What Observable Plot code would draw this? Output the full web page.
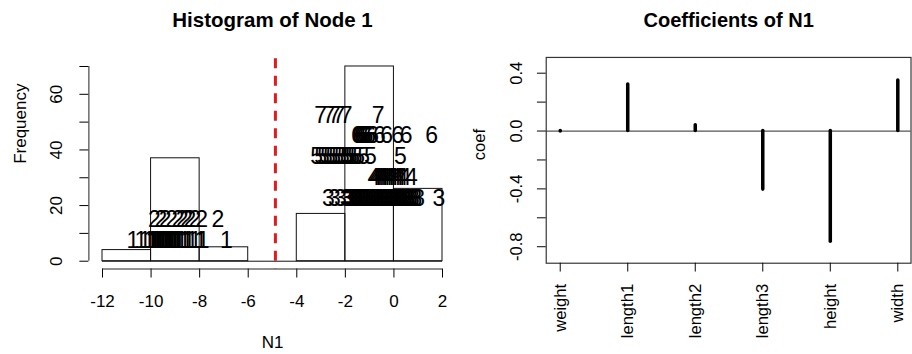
<!DOCTYPE html>
<html><head><meta charset="utf-8">
<script src="https://cdn.jsdelivr.net/npm/d3@7"></script>
<script src="https://cdn.jsdelivr.net/npm/@observablehq/plot@0.6"></script>
<style>
html,body{margin:0;padding:0;background:#fff;}
#wrap{position:relative;width:912px;height:354px;overflow:hidden;background:#fff;}
#left,#right{position:absolute;top:0;}
#left{left:0;} #right{left:456px;}
svg{display:block}
</style></head><body>
<div id="wrap"><div id="left"></div><div id="right"></div></div>
<script>
// Node 1 scores (N1) by species code 1..7
const species1 = [-10.75, -10.42, -10.25, -10.08,
  -9.97, -9.91, -9.86, -9.82, -9.76, -9.71, -9.66, -9.62, -9.55, -9.51, -9.44, -9.39, -9.33, -9.28,
  -9.24, -9.18, -9.12, -9.05, -9.01, -8.94, -8.89, -8.83, -8.74, -8.62, -8.51, -8.43, -8.31, -8.18,
  -7.95, -7.86, -6.9];
const species2 = [-9.86, -9.6, -9.42, -9.15, -8.9, -8.72, -8.55, -8.4, -8.2, -7.92, -7.25];
const species3 = [-2.7, -2.45, -2.2,
  -1.97, -1.91, -1.86, -1.8, -1.74, -1.69, -1.63, -1.58, -1.52, -1.47,
  -1.41, -1.36, -1.3, -1.25, -1.19, -1.14, -1.08, -1.03, -0.97, -0.92,
  -0.86, -0.8, -0.75, -0.69, -0.64, -0.58, -0.52, -0.47, -0.41, -0.36,
  -0.3, -0.25, -0.19, -0.14, -0.09, -0.05, -0.02,
  0.04, 0.09, 0.14, 0.2, 0.26, 0.31, 0.37, 0.44, 0.5, 0.57, 0.64, 0.72, 0.8, 0.9, 1.02, 1.85];
const species4 = [-0.82, -0.75, -0.68, -0.6, -0.52, -0.45, -0.37, -0.28, -0.2, -0.12, -0.05,
  0.06, 0.15, 0.24, 0.33, 0.45, 0.72];
const species5 = [-3.18, -3.02, -2.9, -2.78, -2.66, -2.55, -2.44, -2.32, -2.2, -2.08,
  -1.96, -1.9, -1.83, -1.75, -1.66, -1.56, -1.45, -1.25, -0.97, 0.27];
const species6 = [-1.5, -1.45, -1.38, -1.32, -1.25, -1.18, -1.1, -1.0, -0.88, -0.6, -0.3, 0.15, 0.5, 1.55];
const species7 = [-3.02, -2.68, -2.45, -2.27, -1.97, -0.65];
const speciesIds = [1, 2, 3, 4, 5, 6, 7];
const histBreaks = [-12, -10, -8, -6, -4, -2, 0, 2];
const freqTicks = [0, 10, 20, 30, 40, 50, 60, 70];
const splitN1 = -4.88;

// Coefficients of N1
const coefNames = ["weight", "length1", "length2", "length3", "height", "width"];
const coefValues = [-0.003, 0.322, 0.04, -0.405, -0.765, 0.35];
const coefTicks = [-0.8, -0.6, -0.4, -0.2, 0, 0.2, 0.4];

const FONT = '"Liberation Sans", Arial, Helvetica, sans-serif';
const labelStep = 7.5;

const nodeData = [];
[species1, species2, species3, species4, species5, species6, species7].forEach((arr, i) =>
  arr.forEach(v => nodeData.push({n1: v, species: speciesIds[i]})));
const coefData = coefNames.map((name, i) => ({name, value: coefValues[i]}));

const xDomL = [-12.56, 2.56];
const yDomL = [-2.8, 72.8];

const left = Plot.plot({
  width: 456, height: 354,
  marginLeft: 88.4, marginRight: 0.4, marginTop: 58.2, marginBottom: 85.5,
  style: {fontFamily: FONT, fontSize: "17px", background: "white", overflow: "visible", color: "black"},
  x: {domain: xDomL, label: null},
  y: {domain: yDomL, label: null},
  marks: [
    Plot.rectY(nodeData, Plot.binX({y: "count"}, {x: "n1", thresholds: histBreaks,
      domain: [histBreaks[0], histBreaks[histBreaks.length - 1]],
      fill: "none", stroke: "#111", strokeWidth: 1, inset: 0})),
    Plot.ruleY([0], {x1: histBreaks[0], x2: histBreaks[histBreaks.length - 1], stroke: "#111"}),
    Plot.text(nodeData, {x: "n1", y: d => d.species * labelStep, text: d => String(d.species),
      fontSize: 23, fill: "black"}),
    Plot.ruleX([splitN1], {stroke: "#e41a1c", strokeWidth: 3, strokeDasharray: "10,7.5"}),
    Plot.axisX({ticks: histBreaks, tickSize: 9, tickPadding: 17, tickFormat: d => String(d), fontSize: 17, label: null}),
    Plot.ruleY([yDomL[0]], {x1: histBreaks[0], x2: histBreaks[histBreaks.length - 1], stroke: "#222"}),
    Plot.axisY({ticks: freqTicks, tickSize: 9, tickPadding: 17.5, tickRotate: -90, fontSize: 17, label: null,
      tickFormat: d => d % 20 === 0 ? String(d) : ""}),
    Plot.ruleX([xDomL[0]], {y1: freqTicks[0], y2: freqTicks[freqTicks.length - 1], stroke: "#222"}),
    Plot.text(["Frequency"], {text: d => d, frameAnchor: "left", dx: -63.4, rotate: -90,
      lineAnchor: "bottom", fontSize: 17, fill: "black"}),
    Plot.text(["N1"], {text: d => d, frameAnchor: "bottom", dy: 78.5, lineAnchor: "bottom", fontSize: 17, fill: "black"}),
    Plot.text(["Histogram of Node 1"], {text: d => d, frameAnchor: "top", dy: -31.5,
      lineAnchor: "bottom", fontSize: 20.5, fontWeight: "bold", fill: "black"})
  ]
});
document.getElementById("left").appendChild(left);

const right = Plot.plot({
  width: 466, height: 354,
  marginLeft: 91.7, marginRight: 1.5, marginTop: 58.2, marginBottom: 85.5,
  style: {fontFamily: FONT, fontSize: "17px", background: "white", overflow: "visible", color: "black"},
  x: {type: "point", domain: coefNames, padding: 0.2, label: null},
  y: {domain: [-0.914, 0.509], label: null},
  marks: [
    Plot.ruleY([0], {stroke: "#555", strokeWidth: 1.2}),
    Plot.ruleX(coefData, {x: "name", y1: 0, y2: "value", stroke: "black", strokeWidth: 3.6, strokeLinecap: "round"}),
    Plot.frame({stroke: "#333", strokeWidth: 1.2}),
    Plot.axisX({tickSize: 9, tickPadding: 12, tickRotate: -90, fontSize: 17, label: null}),
    Plot.axisY({ticks: coefTicks, tickSize: 9, tickPadding: 15.5, tickRotate: -90, fontSize: 17, label: null,
      tickFormat: (d, i) => i % 2 === 0 ? d.toFixed(1) : ""}),
    Plot.text(["coef"], {text: d => d, frameAnchor: "left", dx: -63, rotate: -90,
      lineAnchor: "bottom", fontSize: 17, fill: "black"}),
    Plot.text(["Coefficients of N1"], {text: d => d, frameAnchor: "top", dy: -31.5,
      lineAnchor: "bottom", fontSize: 20.5, fontWeight: "bold", fill: "black"})
  ]
});
document.getElementById("right").appendChild(right);
</script>
</body></html>
